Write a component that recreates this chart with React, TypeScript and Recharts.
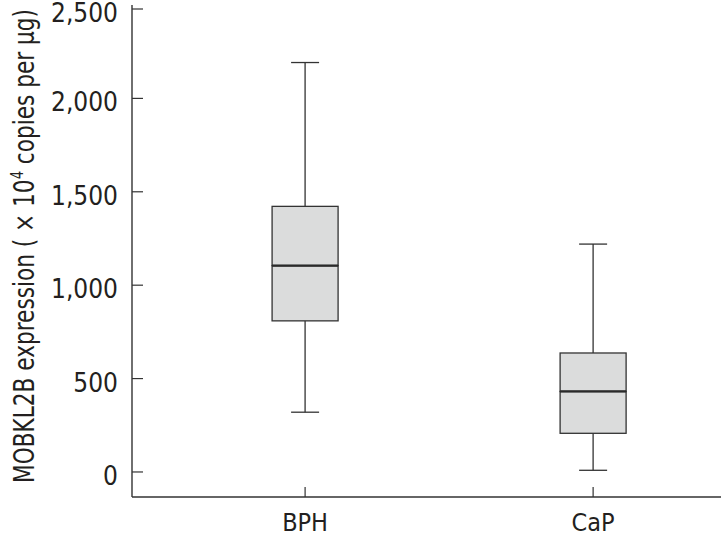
import { Bar, ComposedChart, Label, XAxis, YAxis } from "recharts";

// box plot summary per group (x10^4 copies per ug)
const categories = ["BPH", "CaP"];
const minValues = [320, 9];
const q1Values = [809, 207];
const medianValues = [1105, 431];
const q3Values = [1422, 637];
const maxValues = [2192, 1220];
const yTicks = [0, 500, 1000, 1500, 2000, 2500];

const data = categories.map((name, i) => ({
  pos: i + 1,
  name,
  base: minValues[i],
  lowWhisker: q1Values[i] - minValues[i],
  lowBox: medianValues[i] - q1Values[i],
  highBox: q3Values[i] - medianValues[i],
  highWhisker: maxValues[i] - q3Values[i],
}));

const ink = "#333333";
const font = '"Liberation Sans Narrow", "Arial Narrow", "DejaVu Sans Condensed", sans-serif';
const capHalf = 14;

function LowWhisker(props: any) {
  const { x, y, width, height } = props;
  const cx = x + width / 2;
  const bottom = y + height;
  return (
    <g>
      <line x1={cx} x2={cx} y1={y} y2={bottom} stroke={ink} strokeWidth={1.3} />
      <line x1={cx - capHalf} x2={cx + capHalf} y1={bottom} y2={bottom} stroke={ink} strokeWidth={1.3} />
    </g>
  );
}

function HighWhisker(props: any) {
  const { x, y, width, height } = props;
  const cx = x + width / 2;
  return (
    <g>
      <line x1={cx} x2={cx} y1={y} y2={y + height} stroke={ink} strokeWidth={1.3} />
      <line x1={cx - capHalf} x2={cx + capHalf} y1={y} y2={y} stroke={ink} strokeWidth={1.3} />
    </g>
  );
}

function LowBox(props: any) {
  const { x, y, width, height } = props;
  return <rect x={x} y={y} width={width} height={height} fill="#dbdcdc" stroke={ink} strokeWidth={1.3} />;
}

function HighBox(props: any) {
  const { x, y, width, height } = props;
  return (
    <g>
      <rect x={x} y={y} width={width} height={height} fill="#dbdcdc" stroke={ink} strokeWidth={1.3} />
      {/* median */}
      <line x1={x} x2={x + width} y1={y + height} y2={y + height} stroke="#2a2a2a" strokeWidth={2.2} />
    </g>
  );
}

function YTick(props: any) {
  const { x, y, payload } = props;
  return (
    <g>
      <line x1={x} x2={x + 11} y1={y} y2={y} stroke={ink} strokeWidth={1.2} />
      <text x={x - 14} y={y + 13} textAnchor="end" fontFamily={font} fontSize={26} fill="#231f20">
        {Number(payload.value).toLocaleString("en-US")}
      </text>
    </g>
  );
}

function XTick(props: any) {
  const { x, y, payload } = props;
  return (
    <g>
      <line x1={x} x2={x} y1={y} y2={y - 10} stroke={ink} strokeWidth={1.2} />
      <text x={x} y={y + 34} textAnchor="middle" fontFamily={font} fontSize={25} fill="#231f20">
        {categories[payload.value - 1]}
      </text>
    </g>
  );
}

function YLabel() {
  return (
    <text
      x={34}
      y={246}
      transform="rotate(-90 34 246)"
      textAnchor="middle"
      fontFamily={font}
      fontSize={28}
      fill="#231f20"
      textLength={474}
      lengthAdjust="spacingAndGlyphs"
    >
      MOBKL2B expression ( × 10
      <tspan dy={-11} fontSize={17}>4</tspan>
      <tspan dy={11}> copies per µg)</tspan>
    </text>
  );
}

export default function App() {
  return (
    <div style={{ position: "absolute", left: 0, top: 0, background: "#fff" }}>
      <ComposedChart width={721} height={537} data={data} margin={{ top: 5, right: 0, bottom: 0, left: 0 }}>
        <XAxis
          type="number"
          dataKey="pos"
          domain={[0.399, 2.444]}
          ticks={[1, 2]}
          allowDataOverflow
          height={40}
          tickSize={0}
          tickMargin={0}
          tickLine={false}
          axisLine={{ stroke: ink, strokeWidth: 1.4 }}
          tick={<XTick />}
        />
        <YAxis
          type="number"
          domain={[-134, 2500]}
          ticks={yTicks}
          allowDataOverflow
          width={132}
          tickSize={0}
          tickMargin={0}
          tickLine={false}
          axisLine={{ stroke: ink, strokeWidth: 1.4 }}
          tick={<YTick />}
        >
          <Label content={<YLabel />} />
        </YAxis>
        <Bar dataKey="base" stackId="box" barSize={66} fill="none" isAnimationActive={false} />
        <Bar dataKey="lowWhisker" stackId="box" barSize={66} shape={<LowWhisker />} isAnimationActive={false} />
        <Bar dataKey="lowBox" stackId="box" barSize={66} shape={<LowBox />} isAnimationActive={false} />
        <Bar dataKey="highBox" stackId="box" barSize={66} shape={<HighBox />} isAnimationActive={false} />
        <Bar dataKey="highWhisker" stackId="box" barSize={66} shape={<HighWhisker />} isAnimationActive={false} />
      </ComposedChart>
    </div>
  );
}
